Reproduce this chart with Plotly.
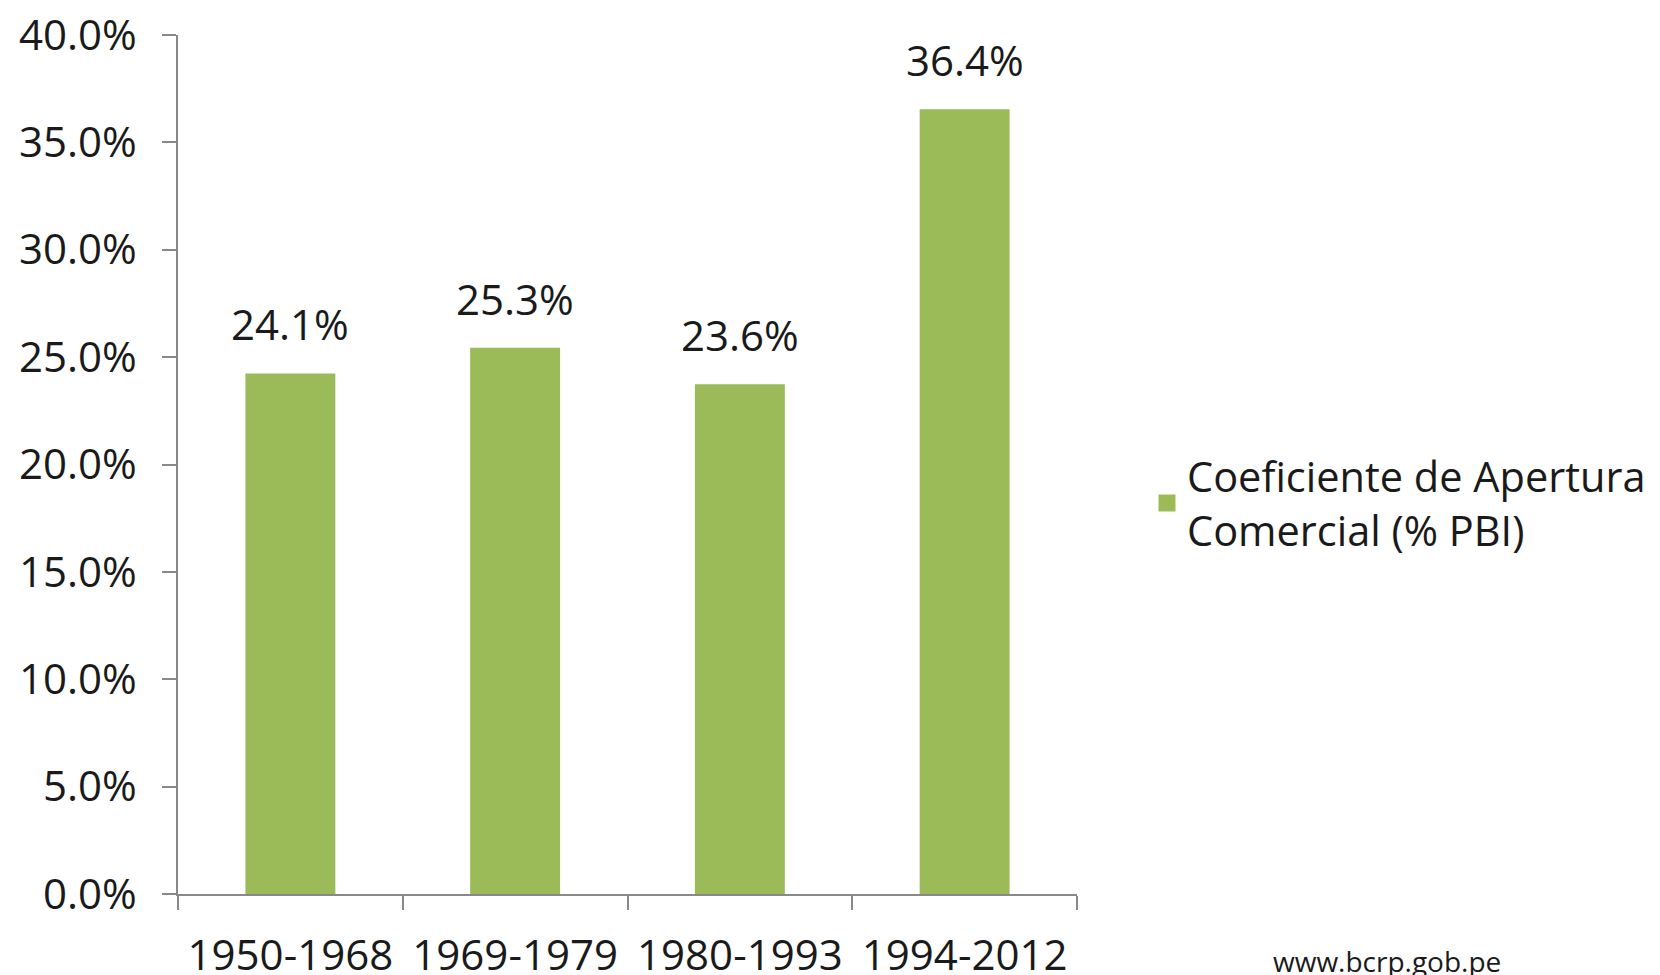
import plotly.graph_objects as go

categories = ["1950-1968", "1969-1979", "1980-1993", "1994-2012"]
values = [0.241, 0.253, 0.236, 0.364]
value_labels = ["24.1%", "25.3%", "23.6%", "36.4%"]
series_name = "Coeficiente de Apertura<br>Comercial (% PBI)"
source_text = "www.bcrp.gob.pe"

FONT = "Open Sans"
GREEN = "#9BBB59"
AXIS = "#898989"
TXT = "#1a1a1a"

# page has an 8px body margin: figure coords = page coords - 8
W, H = 1652, 967
L, T = 170, 27
R = W - 1069
B = H - 886
PW, PH = W - L - R, H - T - B

fig = go.Figure()
fig.add_trace(go.Bar(
    x=categories, y=values, name=series_name,
    marker=dict(color=GREEN, line=dict(width=6, color=GREEN)),
    showlegend=True,
))

for c, v, t in zip(categories, values, value_labels):
    fig.add_annotation(x=c, y=v, text=t, showarrow=False, yanchor="bottom",
                       yshift=22, font=dict(family=FONT, size=42, color=TXT))

fig.add_annotation(xref="paper", yref="paper",
                   x=(1379 - L) / PW, y=(H - B - 953) / PH,
                   xanchor="center", yanchor="middle", text=source_text,
                   showarrow=False, font=dict(family=FONT, size=28, color=TXT))

fig.update_layout(
    width=W, height=H,
    margin=dict(l=L, r=R, t=T, b=B, autoexpand=False),
    paper_bgcolor="white", plot_bgcolor="white",
    bargap=0.6 + 6 / 226,
    font=dict(family=FONT, size=42, color=TXT),
    showlegend=True,
    legend=dict(x=(1139 - L) / PW, y=(H - B - 495) / PH, xanchor="left", yanchor="middle",
                font=dict(family=FONT, size=41.5, color=TXT),
                bgcolor="rgba(0,0,0,0)"),
)
fig.update_xaxes(
    type="category", automargin=False, showline=True, linecolor=AXIS, linewidth=1.5,
    ticks="outside", tickson="boundaries", ticklen=14, tickcolor=AXIS, tickwidth=1.5,
    showgrid=False, zeroline=False, ticklabelstandoff=24, ticklabeloverflow="allow",
    tickfont=dict(family=FONT, size=42, color=TXT),
)
fig.update_yaxes(
    range=[0, 0.4], dtick=0.05, tickformat=".1%", automargin=False, showline=True,
    linecolor=AXIS, linewidth=1.5, ticks="outside", ticklen=14, tickcolor=AXIS, tickwidth=1.5,
    showgrid=False, zeroline=False, ticklabelstandoff=17, ticklabeloverflow="allow",
    tickfont=dict(family=FONT, size=42, color=TXT),
)

fig.write_html("out.html")
